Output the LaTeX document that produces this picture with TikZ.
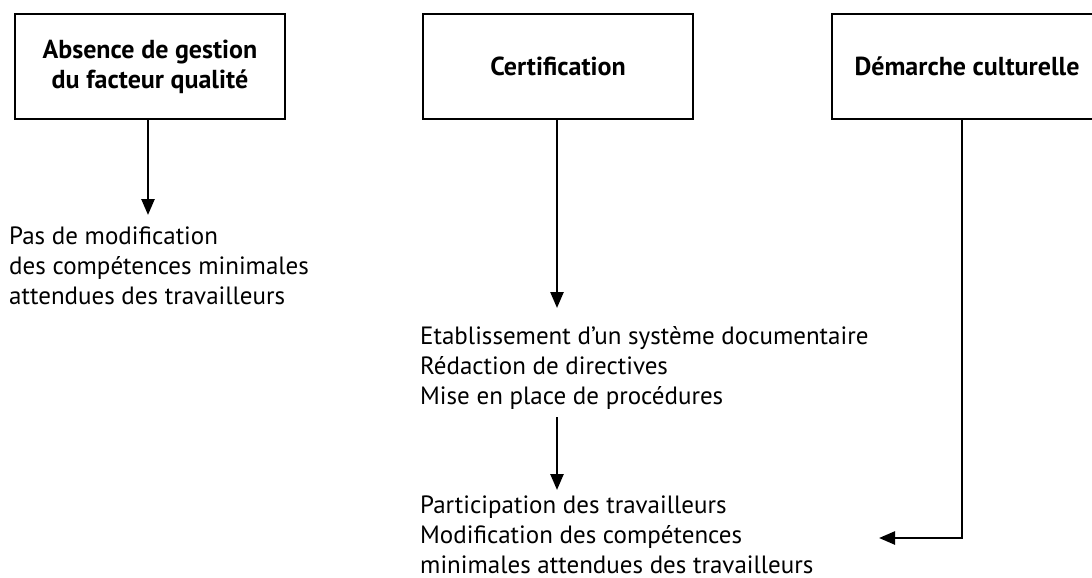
\documentclass[tikz,border=0pt]{standalone}
\usepackage{fontspec}
\setmainfont{PT Sans}
\usetikzlibrary{arrows.meta}
\begin{document}
\begin{tikzpicture}[x=1pt,y=-1pt,
  box/.style={draw,line width=2.5pt,minimum width=270pt,minimum height=105pt,inner sep=0pt,
    font=\fontsize{26}{30}\selectfont\bfseries,align=center},
  txt/.style={anchor=base west,inner sep=0pt,align=left,font=\fontsize{25}{30}\selectfont},
  arr/.style={line width=2.5pt,-{Triangle[length=16pt,width=13pt]}}]
\useasboundingbox (0,0) rectangle (1092,578);
\node[box] (b1) at (150,66.5) {Absence de gestion\\du facteur qualité};
\node[box] (b2) at (558,66.5) {Certification};
\node[box] (b3) at (967,66.5) {Démarche culturelle};
\node[txt] (t1) at (9,304) {Pas de modification\\des compétences minimales\\attendues des travailleurs};
\node[txt] (t2) at (420,404) {Etablissement d’un système documentaire\\Rédaction de directives\\Mise en place de procédures};
\node[txt] (t3) at (420,573) {Participation des travailleurs\\Modification des compétences\\minimales attendues des travailleurs};
\coordinate (a1) at (148,215);
\coordinate (a2) at (557,308);
\coordinate (a3s) at (557,417);
\coordinate (a3) at (557,490);
\coordinate (c4) at (962,538);
\coordinate (a4) at (879,538);
\draw[arr] (b1.south -| a1) -- (a1);
\draw[arr] (b2.south -| a2) -- (a2);
\draw[arr] (a3s) -- (a3);
\draw[arr] (b3.south -| c4) -- (c4) -- (a4);
\end{tikzpicture}
\end{document}
